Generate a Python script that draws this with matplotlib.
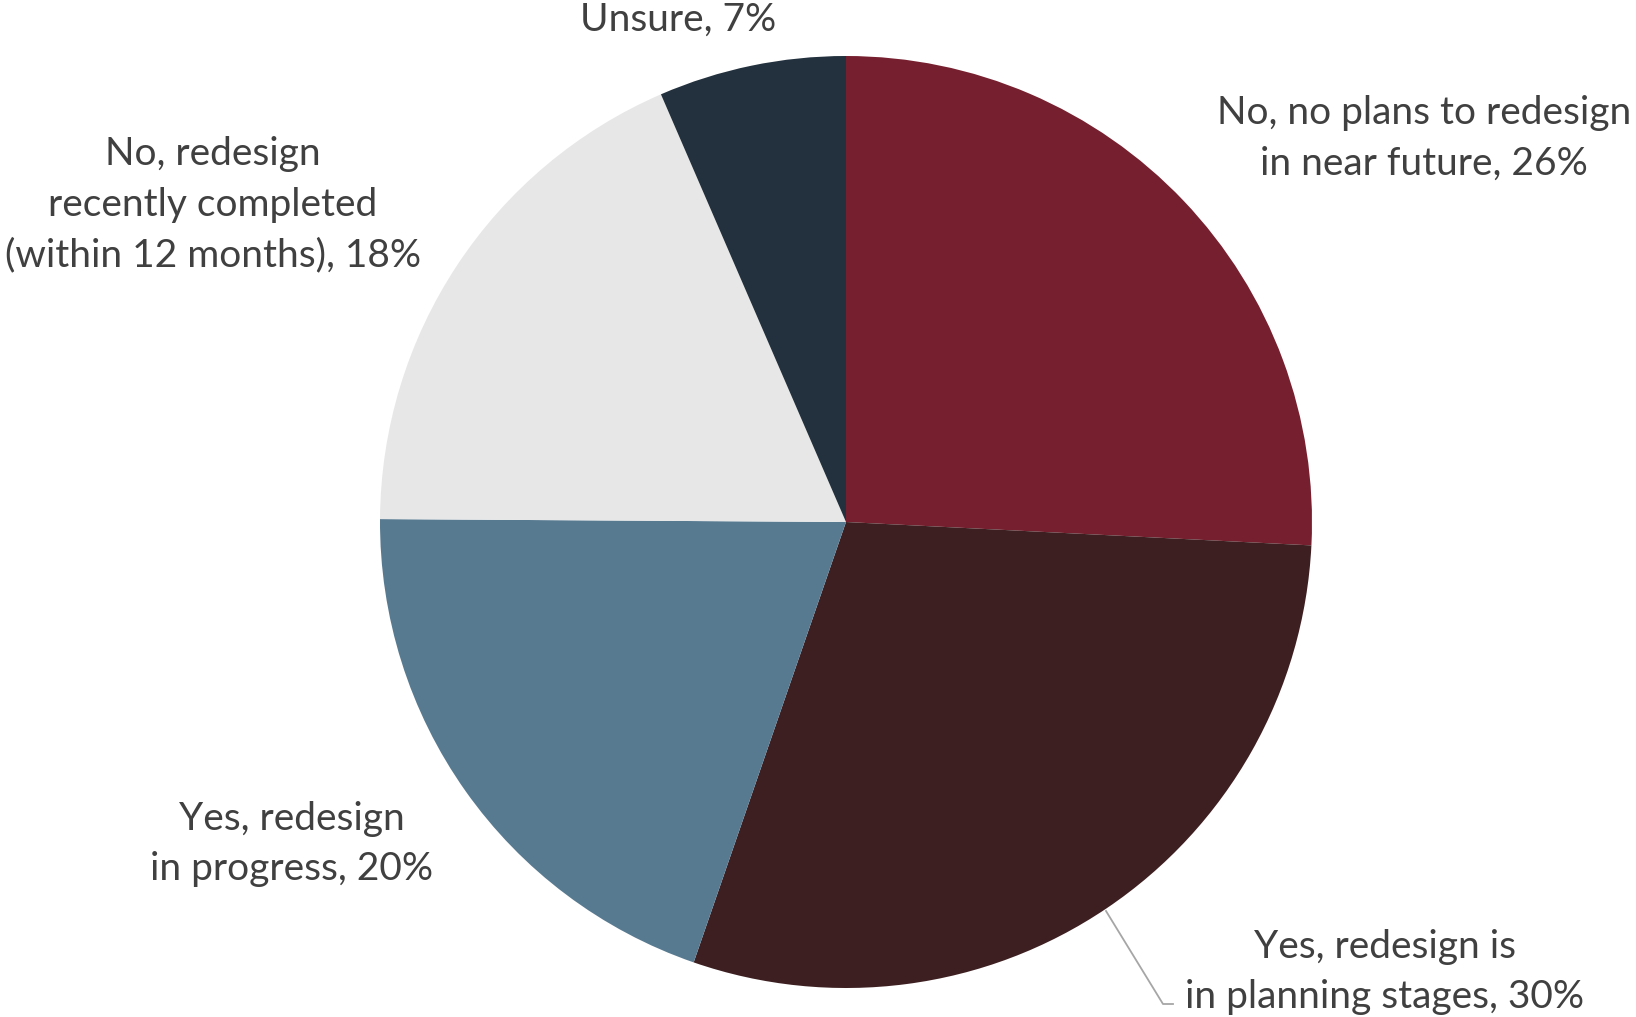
import matplotlib.pyplot as plt

# ── Data ──────────────────────────────────────────────────────────────────────
labels = [
    "No, no plans to redesign\nin near future, 26%",
    "Yes, redesign is\nin planning stages, 30%",
    "Yes, redesign\nin progress, 20%",
    "No, redesign\nrecently completed\n(within 12 months), 18%",
    "Unsure, 7%",
]
values = [25.8, 29.5, 19.8, 18.4, 6.5]
colors = ["#76202F", "#3D1F21", "#577A91", "#E7E7E7", "#22313D"]

# label centres in pixel coords (y measured from top)
label_pos = [(1424, 138), (1385, 972), (292, 844), (213, 205), (678, 20)]

W, H = 1636, 1017
plt.rcParams["font.family"] = ["Lato", "DejaVu Sans"]

fig = plt.figure(figsize=(W / 100, H / 100), dpi=100)
ax = fig.add_axes([0, 0, 1, 1])
ax.set_xlim(0, W)
ax.set_ylim(0, H)
ax.set_aspect("equal")
ax.axis("off")

ax.pie(values, colors=colors, startangle=90, counterclock=False,
       center=(846, H - 522), radius=466,
       wedgeprops=dict(linewidth=0))
ax.set_xlim(0, W)
ax.set_ylim(0, H)

for text, (x, y) in zip(labels, label_pos):
    ax.text(x, H - y, text, ha="center", va="center", fontsize=28,
            color="#404040", linespacing=1.5)

# leader line for the planning-stages label
ax.plot([1106, 1163, 1173], [H - 911, H - 1004, H - 1004],
        color="#A6A6A6", linewidth=1.3)

fig.savefig("out.png", dpi=100)
